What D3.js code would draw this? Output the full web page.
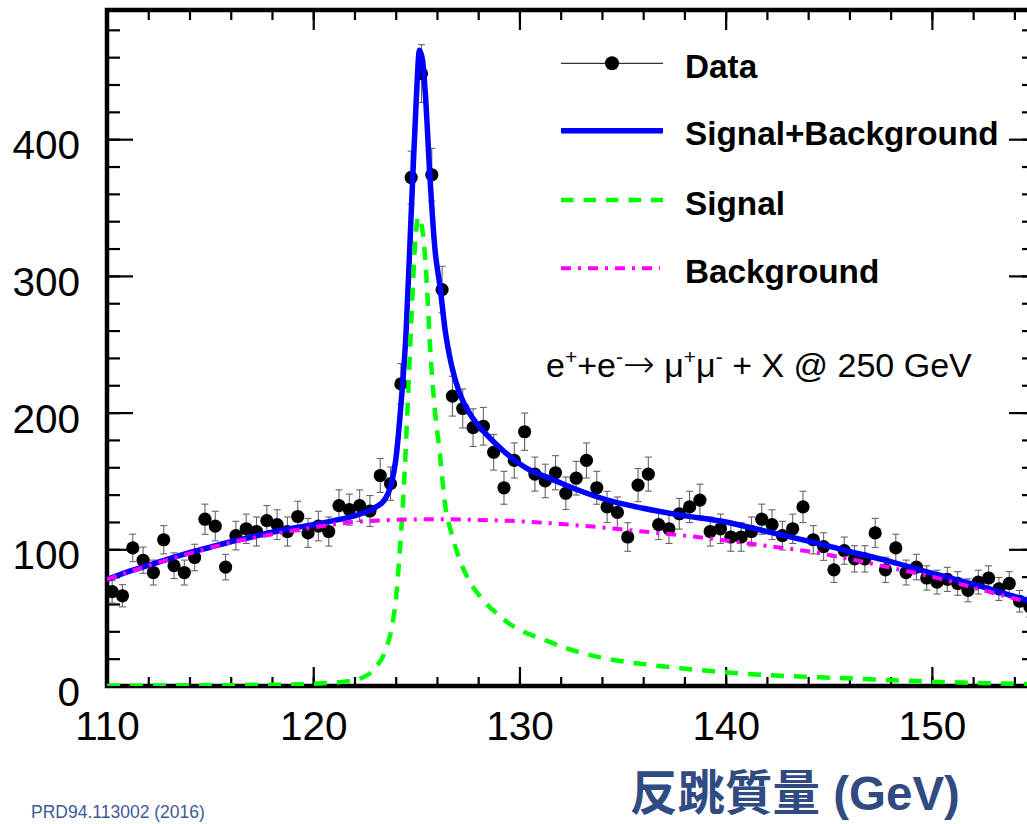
<!DOCTYPE html>
<html>
<head>
<meta charset="utf-8">
<script src="https://cdn.jsdelivr.net/npm/d3@7"></script>
<style>
  html, body { margin: 0; padding: 0; background: #fff; }
  svg { display: block; }
</style>
</head>
<body>
<div id="chart"></div>
<script>
// ---------------- DATA ----------------
// Histogram: bin width 0.5 GeV, first bin centre 110.25 GeV
const binStart = 110.25;
const binWidth = 0.5;
const counts = [
  69, 66, 101, 92, 83, 107, 88, 83, 94, 122,
  117, 87, 110, 115, 113, 121, 118, 113, 124, 112,
  117, 113, 132, 129, 132, 128, 154, 148, 221, 372,
  448, 374, 290, 212, 203, 189, 190, 171, 145, 165,
  186, 155, 150, 156, 141, 152, 165, 145, 131, 127,
  109, 147, 155, 118, 115, 126, 131, 136, 113, 115,
  109, 109, 113, 122, 118, 110, 115, 131, 107, 102,
  85, 99, 93, 93, 112, 85, 101, 83, 87, 79,
  76, 78, 75, 70, 76, 79, 71, 75, 62, 58
];

// Fit curves
const sbX = [110, 111, 112, 113, 114, 115, 116, 117, 118, 119, 120, 121, 122, 122.5, 123, 123.5, 123.75, 124, 124.25, 124.5, 124.75, 125, 125.15, 125.3, 125.45, 125.65, 125.9, 126.15, 126.4, 126.7, 127.1, 127.6, 128.4, 129, 129.7, 130.5, 131.3, 132.9, 134.5, 136, 137.8, 140, 142, 144, 146, 148, 150, 152, 154, 155];
const sbY = [78, 83.5, 88.3, 93, 97.5, 101.5, 105.5, 109, 112.5, 115.5, 118, 121, 124.5, 127, 130.5, 137, 146, 165, 205, 258, 345, 430, 465, 458, 430, 375, 320, 292, 260, 235, 214, 199, 184, 175, 166, 158, 153, 143, 135, 130, 125, 120, 113, 106, 98.5, 91, 82.5, 74.5, 65.5, 61];

const sigX = [110, 114, 117, 119, 120.5, 121.5, 122.3, 123, 123.5, 123.8, 124, 124.2, 124.36, 124.5, 124.6, 124.77, 124.93, 125.09, 125.2, 125.33, 125.5, 125.66, 125.85, 126.14, 126.4, 126.7, 126.95, 127.6, 128.24, 129.05, 130, 131, 132.3, 134.2, 136, 137.8, 140, 142, 145.9, 150, 155];
const sigY = [0.2, 0.4, 0.7, 1.1, 2, 3.2, 5.6, 13, 26, 42, 62, 99, 136, 178, 212, 272, 321, 343, 340, 330, 296, 250, 210, 170, 132, 112, 99, 76, 63, 51, 41, 35, 27.5, 20, 16, 13, 10, 8, 5.6, 3.2, 1.3];

const bkgX = [110, 112, 114, 116, 118, 120, 122, 124, 126, 128, 130, 132, 134, 136, 138, 140, 142, 144, 146, 148, 150, 152, 154, 155];
const bkgY = [78, 88, 97, 105, 111, 116, 120, 121.5, 122, 121.5, 120.5, 118.5, 116, 113, 110, 106.5, 102.5, 98.5, 93, 86.5, 80, 72, 64, 60];

const xTicks = [110, 120, 130, 140, 150];
const yTicks = [0, 100, 200, 300, 400];
const legendLabels = ["Data", "Signal+Background", "Signal", "Background"];
const xTitle = "反跳質量 (GeV)";
const sourceNote = "PRD94.113002 (2016)";

// ---------------- LAYOUT ----------------
const W = 1027, H = 824;
const pL = 107, pR = 1035, pT = 10, pB = 686;

const svg = d3.select("#chart").append("svg")
  .attr("width", W).attr("height", H)
  .attr("viewBox", `0 0 ${W} ${H}`);

const x = d3.scaleLinear().domain([110, 155]).range([pL, pR]);
const y = d3.scaleLinear().domain([0, 494.5]).range([pB, pT]);

const FONT = "'Liberation Sans', Arial, Helvetica, sans-serif";

svg.append("defs").append("clipPath").attr("id", "plotclip")
  .append("rect").attr("x", pL).attr("y", pT)
  .attr("width", pR - pL).attr("height", pB - pT);

// ---------------- AXES ----------------
const minorX = d3.range(110, 155.01, 2);
const minorY = d3.range(0, 494, 20);

function styleAxis(g) {
  g.select(".domain").remove();
  g.selectAll("line").attr("stroke", "#000").attr("stroke-width", 2.2);
  g.selectAll("text").attr("font-family", FONT).attr("font-size", 40.5).attr("fill", "#000");
}

// bottom
svg.append("g").attr("transform", `translate(0,${pB})`)
  .call(d3.axisBottom(x).tickValues(minorX).tickSize(-9).tickFormat(""))
  .call(styleAxis);
svg.append("g").attr("transform", `translate(0,${pB})`)
  .call(d3.axisBottom(x).tickValues(xTicks).tickSize(-19).tickPadding(25.4).tickFormat(d3.format("d")))
  .call(styleAxis);
// top
svg.append("g").attr("transform", `translate(0,${pT})`)
  .call(d3.axisTop(x).tickValues(minorX).tickSize(-10).tickFormat(""))
  .call(styleAxis);
svg.append("g").attr("transform", `translate(0,${pT})`)
  .call(d3.axisTop(x).tickValues(xTicks).tickSize(-20).tickFormat(""))
  .call(styleAxis);
// left
svg.append("g").attr("transform", `translate(${pL},0)`)
  .call(d3.axisLeft(y).tickValues(minorY).tickSize(-13).tickFormat(""))
  .call(styleAxis);
const yl = svg.append("g").attr("transform", `translate(${pL},0)`)
  .call(d3.axisLeft(y).tickValues(yTicks).tickSize(-26).tickPadding(27).tickFormat(d3.format("d")))
  .call(styleAxis);
yl.selectAll("text").attr("dy", "19.5");
// right
svg.append("g").attr("transform", `translate(${pR},0)`)
  .call(d3.axisRight(y).tickValues(minorY).tickSize(-13).tickFormat(""))
  .call(styleAxis);
svg.append("g").attr("transform", `translate(${pR},0)`)
  .call(d3.axisRight(y).tickValues(yTicks).tickSize(-26).tickFormat(""))
  .call(styleAxis);

// frame
svg.append("rect")
  .attr("x", pL).attr("y", pT)
  .attr("width", pR - pL).attr("height", pB - pT)
  .attr("fill", "none").attr("stroke", "#000").attr("stroke-width", 4.5);

// ---------------- DATA POINTS ----------------
const pts = counts.map((c, i) => ({ m: binStart + i * binWidth, n: c, e: Math.sqrt(c) }));
const plot = svg.append("g").attr("clip-path", "url(#plotclip)");

const eb = plot.append("g").attr("stroke", "#666").attr("stroke-width", 1.1);
pts.forEach(p => {
  const cx = x(p.m), y1 = y(p.n + p.e), y2 = y(p.n - p.e);
  eb.append("line").attr("x1", cx).attr("x2", cx).attr("y1", y1).attr("y2", y2);
  eb.append("line").attr("x1", cx - 3.5).attr("x2", cx + 3.5).attr("y1", y1).attr("y2", y1);
  eb.append("line").attr("x1", cx - 3.5).attr("x2", cx + 3.5).attr("y1", y2).attr("y2", y2);
});
plot.append("g").selectAll("circle").data(pts).join("circle")
  .attr("cx", d => x(d.m)).attr("cy", d => y(d.n)).attr("r", 6.6).attr("fill", "#000");

// ---------------- CURVES ----------------
const line = d3.line().x(d => x(d[0])).y(d => y(d[1])).curve(d3.curveMonotoneX);
const zip = (a, b) => a.map((v, i) => [v, b[i]]);

plot.append("path").attr("d", line(zip(sbX, sbY)))
  .attr("fill", "none").attr("stroke", "#0000ff").attr("stroke-width", 5.5).attr("stroke-linejoin", "round");
plot.append("path").attr("d", line(zip(sigX, sigY)))
  .attr("fill", "none").attr("stroke", "#00ff00").attr("stroke-width", 4.5).attr("stroke-dasharray", "13,10");
plot.append("path").attr("d", line(zip(bkgX, bkgY)))
  .attr("fill", "none").attr("stroke", "#ff00ff").attr("stroke-width", 4).attr("stroke-dasharray", "10,7,3,7");

// ---------------- LEGEND ----------------
const lg = svg.append("g");
const rowsY = [63.3, 130.7, 200, 268.3];
const lx0 = 561, lx1 = 663;
lg.append("line").attr("x1", lx0).attr("x2", lx1).attr("y1", rowsY[0]).attr("y2", rowsY[0])
  .attr("stroke", "#000").attr("stroke-width", 1);
lg.append("circle").attr("cx", (lx0 + lx1) / 2).attr("cy", rowsY[0]).attr("r", 7).attr("fill", "#000");
lg.append("line").attr("x1", lx0).attr("x2", lx1).attr("y1", rowsY[1]).attr("y2", rowsY[1])
  .attr("stroke", "#0000ff").attr("stroke-width", 5.5);
lg.append("line").attr("x1", lx0).attr("x2", lx1).attr("y1", rowsY[2]).attr("y2", rowsY[2])
  .attr("stroke", "#00ff00").attr("stroke-width", 4.5).attr("stroke-dasharray", "12.5,10");
lg.append("line").attr("x1", lx0).attr("x2", 660).attr("y1", rowsY[3]).attr("y2", rowsY[3])
  .attr("stroke", "#ff00ff").attr("stroke-width", 4).attr("stroke-dasharray", "10,7,3,7");
lg.selectAll("text.lab").data(legendLabels).join("text").attr("class", "lab")
  .attr("x", 685).attr("y", (d, i) => rowsY[i] + 14.5)
  .attr("font-family", FONT).attr("font-weight", "bold").attr("font-size", 33.3)
  .attr("fill", "#000").text(d => d);

// ---------------- ANNOTATION ----------------
const ann = svg.append("text").attr("x", 546).attr("y", 377)
  .attr("font-family", FONT).attr("font-size", 34).attr("fill", "#000");
const parts = [
  ["e", 0], ["+", 1], ["+e", 0], ["-", 1], ["\u2192", 2], [" \u03bc", 0], ["+", 1], ["\u03bc", 0], ["-", 1], [" + X @ 250 GeV", 0]
];
let raised = false;
parts.forEach(([t, kind]) => {
  const ts = ann.append("tspan").text(t);
  if (kind === 1) {
    ts.attr("font-size", 21);
    if (!raised) { ts.attr("dy", -13); raised = true; }
  } else {
    if (raised) { ts.attr("dy", 13); raised = false; }
    if (kind === 2) ts.attr("font-family", "'DejaVu Sans', sans-serif").attr("font-size", 38).attr("font-weight", 200);
  }
});

// ---------------- TITLES ----------------
svg.append("text").attr("x", 630).attr("y", 810)
  .attr("font-family", "'Liberation Sans', 'Noto Sans CJK JP', sans-serif")
  .attr("font-weight", "bold").attr("font-size", 47.5).attr("fill", "#2f4b82")
  .text(xTitle);
svg.append("text").attr("x", 31).attr("y", 818)
  .attr("font-family", FONT).attr("font-size", 17.5).attr("fill", "#3d5a98")
  .text(sourceNote);
</script>
</body>
</html>
